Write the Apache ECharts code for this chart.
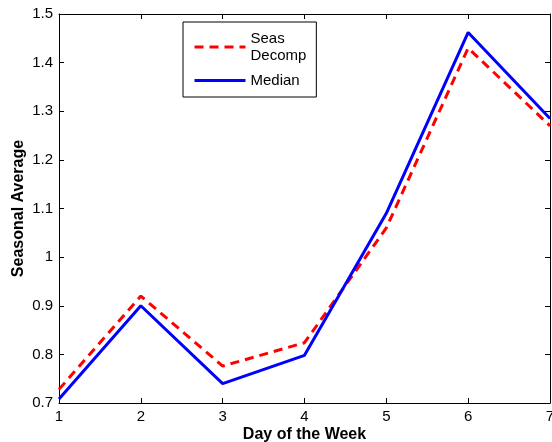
<!DOCTYPE html>
<html>
<head>
<meta charset="utf-8">
<script src="https://cdn.jsdelivr.net/npm/echarts@6/dist/echarts.min.js"></script>
<style>
  html, body { margin: 0; padding: 0; background: #fff; }
  #chart { width: 552px; height: 442px; }
</style>
</head>
<body>
<div id="chart"></div>
<script>
// day of the week
const days = [1, 2, 3, 4, 5, 6, 7];
// seasonal averages
const seasDecomp = [0.728, 0.92, 0.776, 0.824, 1.06, 1.43, 1.27];
const median = [0.708, 0.90, 0.740, 0.798, 1.09, 1.462, 1.285];

const font = 'Liberation Sans, Arial, sans-serif';

function pairs(ys) {
  return days.map((d, i) => [d, ys[i]]);
}

const chart = echarts.init(document.getElementById('chart'));

const boxAxisX = {
  type: 'value', min: 1, max: 7, interval: 1,
  axisLine: { onZero: false, lineStyle: { color: '#000', width: 1 } },
  axisTick: { inside: true, length: 5, lineStyle: { color: '#000' } },
  splitLine: { show: false }
};
const boxAxisY = {
  type: 'value', min: 0.7, max: 1.5, interval: 0.1,
  axisLine: { onZero: false, lineStyle: { color: '#000', width: 1 } },
  axisTick: { inside: true, length: 5, lineStyle: { color: '#000' } },
  splitLine: { show: false }
};

chart.setOption({
  animation: false,
  grid: { left: 59, right: 2, top: 14, bottom: 39, outerBoundsMode: 'none', containLabel: false },
  legend: {
    orient: 'vertical',
    left: 183, top: 22,
    padding: [8, 10, 8, 10],
    itemWidth: 51, itemHeight: 14, itemGap: 8,
    borderColor: '#000', borderWidth: 1, backgroundColor: '#fff',
    itemStyle: { opacity: 0 },
    lineStyle: { width: 3 },
    textStyle: { fontFamily: font, fontSize: 15, color: '#000', lineHeight: 17 },
    formatter: name => name === 'Seas Decomp' ? 'Seas\nDecomp' : name,
    data: ['Seas Decomp', 'Median']
  },
  xAxis: [
    Object.assign({}, boxAxisX, {
      position: 'bottom',
      name: 'Day of the Week', nameLocation: 'middle', nameGap: 24, nameMoveOverlap: false,
      nameTextStyle: { fontFamily: font, fontSize: 16, fontWeight: 'bold', color: '#000' },
      axisLabel: { fontFamily: font, fontSize: 15, color: '#000', margin: 6 }
    }),
    Object.assign({}, boxAxisX, { position: 'top', axisLabel: { show: false } })
  ],
  yAxis: [
    Object.assign({}, boxAxisY, {
      position: 'left',
      name: 'Seasonal Average', nameLocation: 'middle', nameGap: 32, nameMoveOverlap: false,
      nameTextStyle: { fontFamily: font, fontSize: 16, fontWeight: 'bold', color: '#000' },
      axisLabel: { fontFamily: font, fontSize: 15, color: '#000', margin: 6,
        formatter: v => Math.abs(v - 1) < 1e-9 ? '1' : v.toFixed(1) }
    }),
    Object.assign({}, boxAxisY, { position: 'right', axisLabel: { show: false } })
  ],
  series: [
    {
      name: 'Seas Decomp', type: 'line', data: pairs(seasDecomp),
      symbol: 'none', color: '#ff0000',
      lineStyle: { color: '#ff0000', width: 3, type: [9, 6] }
    },
    {
      name: 'Median', type: 'line', data: pairs(median),
      symbol: 'none', color: '#0000ff',
      lineStyle: { color: '#0000ff', width: 3 }
    }
  ]
});
</script>
</body>
</html>
